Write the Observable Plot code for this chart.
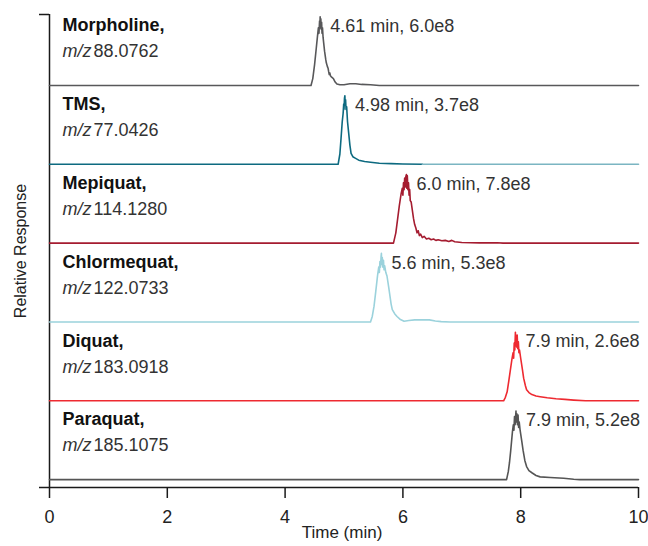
<!DOCTYPE html>
<html><head><meta charset="utf-8">
<script src="https://cdn.jsdelivr.net/npm/d3@7"></script>
<script src="https://cdn.jsdelivr.net/npm/@observablehq/plot@0.6"></script>
<style>body{margin:0;background:#fff}</style>
</head><body><div id="chart"></div>
<script>
// ---- data ----
const names = ["Morpholine,", "TMS,", "Mepiquat,", "Chlormequat,", "Diquat,", "Paraquat,"];
const mzValues = ["88.0762", "77.0426", "114.1280", "122.0733", "183.0918", "185.1075"];
const peakLabels = ["4.61 min, 6.0e8", "4.98 min, 3.7e8", "6.0 min, 7.8e8", "5.6 min, 5.3e8", "7.9 min, 2.6e8", "7.9 min, 5.2e8"];
const colors = ["#58585a", "#0d6a80", "#a51c30", "#9bd2dc", "#ee2a31", "#555555"];
const tmsTailColor = "#7bb5c2";
const xTicks = [0, 2, 4, 6, 8, 10];

// [time (min), relative response %]
const morpholine = [[0,0],[4.44,0],[4.47,10],[4.50,30],[4.53,55],[4.55,72],[4.565,84],[4.575,76],[4.585,94],[4.59,84],[4.595,100],[4.60,86],[4.607,97],[4.613,82],[4.62,92],[4.627,76],[4.635,84],[4.645,70],[4.655,62],[4.67,50],[4.69,38],[4.70,33],[4.71,30],[4.72,27],[4.73,25],[4.74,20],[4.75,16],[4.76,18],[4.77,14],[4.79,12],[4.82,10],[4.85,5],[4.88,2],[4.93,1],[5.0,1],[5.1,2.5],[5.2,2.5],[5.3,1.5],[5.45,1],[5.6,0],[10,0]];
const tms = [[0,0],[4.90,0],[4.93,15],[4.95,38],[4.97,62],[4.985,74],[4.995,88],[5.0,80],[5.008,96],[5.015,100],[5.02,86],[5.027,94],[5.035,80],[5.045,84],[5.06,62],[5.08,45],[5.10,28],[5.12,16],[5.15,11],[5.19,9],[5.25,6],[5.35,4],[5.45,3],[5.6,1.5],[5.8,1],[6.0,0.5],[6.33,0]];
const tmsTail = [[6.33,0],[10,0]];
const mepiquat = [[0,0],[5.84,0],[5.88,15],[5.91,35],[5.94,55],[5.97,72],[5.99,80],[6.0,70],[6.01,88],[6.02,78],[6.03,95],[6.04,82],[6.05,97],[6.06,100],[6.065,80],[6.075,98],[6.085,78],[6.095,88],[6.105,70],[6.115,78],[6.125,62],[6.14,60],[6.16,48],[6.18,36],[6.20,27],[6.22,22],[6.24,15],[6.26,18],[6.28,11],[6.30,13],[6.33,8],[6.36,10],[6.40,6],[6.44,7],[6.48,5],[6.52,6],[6.56,4],[6.60,5],[6.66,3.5],[6.72,4],[6.78,2.5],[6.83,4],[6.88,2],[7.0,1],[7.3,0.3],[7.6,0.5],[7.7,0],[10,0]];
const chlormequat = [[0,0],[5.45,0],[5.48,8],[5.51,23],[5.54,45],[5.57,68],[5.59,80],[5.60,72],[5.61,88],[5.62,80],[5.63,96],[5.635,100],[5.64,84],[5.65,94],[5.66,80],[5.67,90],[5.68,76],[5.69,82],[5.71,72],[5.73,67],[5.76,50],[5.78,38],[5.80,26],[5.82,18],[5.86,12],[5.90,8],[5.95,4],[6.02,1],[6.10,2],[6.2,3],[6.35,3],[6.45,3],[6.55,1.5],[6.65,0.5],[6.8,0],[10,0]];
const diquat = [[0,0],[7.71,0],[7.74,5],[7.77,13],[7.80,30],[7.82,42],[7.85,60],[7.87,70],[7.88,62],[7.89,84],[7.90,74],[7.91,100],[7.915,80],[7.925,95],[7.935,78],[7.94,96],[7.95,76],[7.96,86],[7.97,70],[7.98,74],[8.00,62],[8.03,45],[8.05,33],[8.08,22],[8.10,16],[8.14,12],[8.19,9],[8.26,7],[8.33,6],[8.45,4.5],[8.6,3],[8.75,2],[8.9,1],[9.1,0],[10,0]];
const paraquat = [[0,0],[7.76,0],[7.79,12],[7.81,25],[7.83,42],[7.86,70],[7.875,80],[7.885,72],[7.895,92],[7.905,80],[7.92,100],[7.925,84],[7.935,96],[7.945,80],[7.955,94],[7.965,76],[7.975,84],[7.99,72],[8.02,55],[8.04,43],[8.07,28],[8.10,19],[8.14,13],[8.19,10],[8.26,6],[8.33,4],[8.5,3],[8.73,2],[8.9,0.5],[9.0,0],[10,0]];

const traces = [morpholine, tms, mepiquat, chlormequat, diquat, paraquat];

// ---- layout constants (stacking) ----
const n = names.length;
const lift = 0.1, peakScale = 0.87;
const base = i => (n - 1 - i);
const toRows = (pts, i) => pts.map(([t, r]) => ({i, t, r, y: base(i) + lift + r / 100 * peakScale}));

const lineMarks = traces.map((pts, i) =>
  Plot.line(toRows(pts, i), {x: "t", y: "y", stroke: colors[i], strokeWidth: 1.6, curve: "linear"}));
lineMarks.push(Plot.line(toRows(tmsTail, 1), {x: "t", y: "y", stroke: tmsTailColor, strokeWidth: 1.6}));

const labelRows = names.map((name, i) => {
  const apex = traces[i].reduce((a, b) => (b[1] > a[1] ? b : a));
  return {i, name, mz: mzValues[i], peak: peakLabels[i], apexT: apex[0], b: base(i)};
});

const font = "'Liberation Sans', Arial, Helvetica, sans-serif";
const chart = Plot.plot({
  width: 648, height: 546,
  marginLeft: 49, marginRight: 10, marginTop: 14, marginBottom: 59,
  style: {fontFamily: font, fontSize: "18px", background: "#fff", color: "#222"},
  x: {domain: [0, 10]},
  y: {domain: [0, n]},
  marks: [
    Plot.axisY({ticks: [0, n], tickSize: 10, tickFormat: () => "", label: null, strokeWidth: 1.5, stroke: "#1a1a1a"}),
    Plot.axisX({ticks: xTicks, tickSize: 11, tickPadding: 12, label: null, strokeWidth: 1.5, stroke: "#1a1a1a", fill: "#222", fontSize: 18}),
    Plot.ruleX([0], {stroke: "#1a1a1a", strokeWidth: 1.5}),
    Plot.ruleY([0], {stroke: "#1a1a1a", strokeWidth: 1.5}),
    ...lineMarks,
    Plot.text(labelRows, {x: 0, y: d => d.b + 0.86, text: "name", textAnchor: "start", dx: 13, fontWeight: "bold", fontSize: 18, fill: "#111"}),
    Plot.text(labelRows, {x: 0, y: d => d.b + 0.53, text: () => "m/z", textAnchor: "start", dx: 13, fontStyle: "italic", fontSize: 18, fill: "#333"}),
    Plot.text(labelRows, {x: 0, y: d => d.b + 0.53, text: "mz", textAnchor: "start", dx: 44, fontSize: 18, fill: "#333"}),
    Plot.text(labelRows, {x: "apexT", y: d => d.b + 0.85, text: "peak", textAnchor: "start", dx: 10, fontSize: 18, fill: "#333"}),
    Plot.text(["Relative Response"], {text: d => d, frameAnchor: "left", textAnchor: "middle", rotate: -90, dx: -29, fontSize: 16, fill: "#222"}),
    Plot.text(["Time (min)"], {text: d => d, frameAnchor: "bottom", textAnchor: "middle", dy: 50, dx: -2, fontSize: 17, fill: "#222"})
  ]
});
document.getElementById("chart").appendChild(chart);
</script>
</body></html>
